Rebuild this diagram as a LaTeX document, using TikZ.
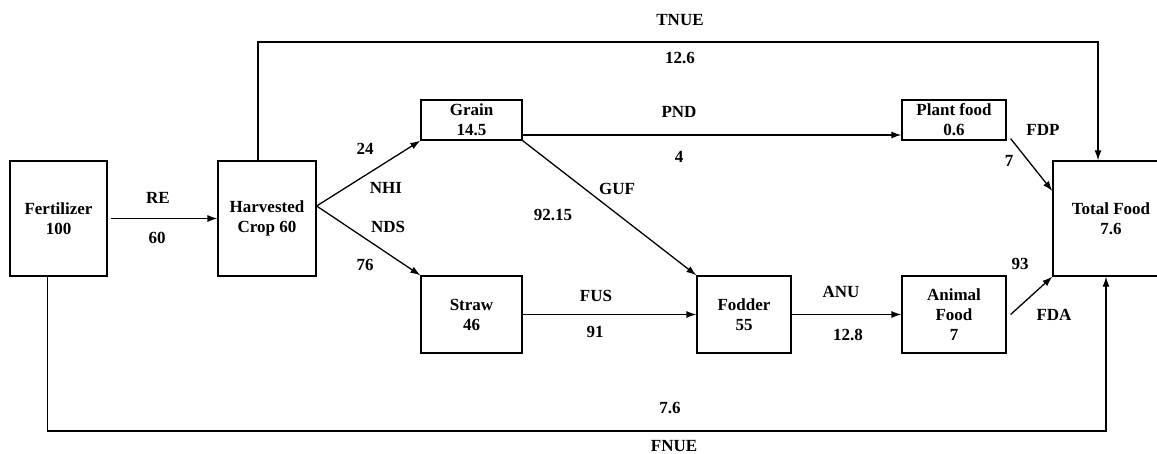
\documentclass[tikz,border=0pt]{standalone}
\usepackage{fontspec}
\setmainfont{Liberation Serif}
\usetikzlibrary{arrows.meta}

\begin{document}
\begin{tikzpicture}[x=1pt,y=-1pt,
  every node/.style={font=\fontsize{17}{20}\selectfont\bfseries},
  box/.style={draw,line width=1.3pt,align=center,inner sep=0pt},
  flow/.style={line width=1.3pt,-{Latex[length=10pt,width=7pt]}}]

  \useasboundingbox (0,0) rectangle (1157,454);

  % boxes
  \node[box,minimum width=97pt,minimum height=115pt] (fert) at (58.5,218.5) {Fertilizer\\100};
  \node[box,minimum width=98pt,minimum height=115pt] (harv) at (267,218.5) {Harvested\\Crop 60};
  \node[box,minimum width=101pt,minimum height=40pt] (grain) at (471.5,120) {Grain\\14.5};
  \node[box,minimum width=101pt,minimum height=77pt] (straw) at (471.5,314.5) {Straw\\46};
  \node[box,minimum width=94pt,minimum height=77pt] (fodder) at (744,314.5) {Fodder\\55};
  \node[box,minimum width=104pt,minimum height=40pt] (plant) at (954,120) {Plant food\\0.6};
  \node[box,minimum width=104pt,minimum height=77pt] (animal) at (954,314.5) {Animal\\Food\\7};
  \node[box,minimum width=116pt,minimum height=115pt] (total) at (1111,218.5) {Total Food\\7.6};

  \coordinate (fork) at ([yshift=12.5pt]harv.east);
  \coordinate (tnue) at (680,42);
  \coordinate (fnue) at (680,431);

  % flows
  \draw[flow] ([xshift=3pt]fert.east) -- (harv.west);
  \draw[flow] (fork) -- (grain.south west);
  \draw[flow] (fork) -- (straw.north west);
  \draw[flow] ([yshift=-15pt]grain.east) -- ([yshift=-15pt]plant.west);
  \draw[flow] (grain.south east) -- (fodder.north west);
  \draw[flow] (straw.east) -- (fodder.west);
  \draw[flow] (fodder.east) -- (animal.west);
  \draw[flow] ([shift={(4pt,2pt)}]plant.south east) -- ([yshift=27.5pt]total.west);
  \draw[flow] ([xshift=4pt]animal.east) -- (total.south west);
  \draw[flow] ([xshift=-9pt]harv.north) |- (tnue) -| ([xshift=-13pt]total.north);
  \draw[flow] ([xshift=-11pt]fert.south) |- (fnue) -| ([xshift=-5pt]total.south);

  % labels
  \node (re) at (158,198) {RE};       \node (re v) at (157,238) {60};
  \node (nhi v) at (365,149) {24};    \node (nhi) at (386,188) {NHI};
  \node (nds) at (388,227) {NDS};     \node (nds v) at (365,265) {76};
  \node (pnd) at (679,112) {PND};     \node (pnd v) at (679,157) {4};
  \node (guf) at (617,189) {GUF};     \node (guf v) at (553,215) {92.15};
  \node (fus) at (596,296) {FUS};     \node (fus v) at (595,332) {91};
  \node (anu) at (841,292) {ANU};     \node (anu v) at (848,335) {12.8};
  \node (fdp) at (1043,130) {FDP};    \node (fdp v) at (1009,161) {7};
  \node (fda v) at (1020,264) {93};   \node (fda) at (1054,315) {FDA};
  \node (tnue l) at (680,20) {TNUE};  \node (tnue v) at (680,58) {12.6};
  \node (fnue v) at (670,408) {7.6};  \node (fnue l) at (674,446) {FNUE};
\end{tikzpicture}
\end{document}
